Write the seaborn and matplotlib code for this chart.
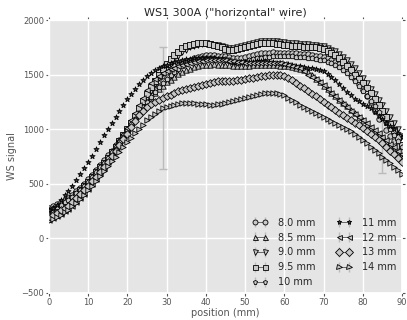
import matplotlib
matplotlib.use("Agg")
import matplotlib.pyplot as plt
import numpy as np
import pandas as pd
import seaborn as sns

# wire position (mm), one reading per mm
position = np.arange(0, 91)

s_80 = [280, 295, 312, 330, 350, 370, 400, 430, 465, 500, 540, 580, 625, 670, 715, 760, 805, 855, 905, 950,
        1000, 1055, 1110, 1160, 1210, 1260, 1310, 1355, 1400, 1440, 1480, 1512, 1545, 1575, 1600, 1620, 1638, 1653, 1665, 1674,
        1680, 1680, 1678, 1675, 1672, 1670, 1664, 1656, 1650, 1653, 1660, 1668, 1678, 1688, 1695, 1700, 1702, 1703, 1702, 1701,
        1700, 1698, 1696, 1694, 1692, 1690, 1685, 1680, 1673, 1667, 1660, 1648, 1635, 1620, 1600, 1575, 1545, 1505, 1460, 1410,
        1360, 1305, 1250, 1170, 1090, 920, 990, 940, 890, 845, 800]
s_85 = [220, 238, 258, 278, 298, 320, 350, 385, 420, 460, 500, 545, 595, 645, 690, 740, 790, 840, 890, 940,
        990, 1045, 1100, 1150, 1200, 1250, 1290, 1330, 1365, 1400, 1430, 1455, 1480, 1502, 1522, 1540, 1555, 1567, 1577, 1585,
        1590, 1592, 1593, 1592, 1591, 1590, 1587, 1583, 1580, 1579, 1580, 1582, 1585, 1588, 1590, 1590, 1590, 1588, 1586, 1583,
        1580, 1575, 1569, 1562, 1555, 1540, 1520, 1492, 1462, 1432, 1400, 1367, 1335, 1302, 1270, 1240, 1210, 1180, 1150, 1115,
        1080, 1045, 1010, 978, 945, 912, 880, 845, 810, 775, 740]
s_90 = [200, 220, 240, 262, 285, 310, 340, 370, 405, 440, 480, 525, 570, 620, 670, 720, 770, 825, 875, 930,
        980, 1040, 1105, 1165, 1230, 1290, 1350, 1410, 1465, 1515, 1560, 1600, 1640, 1675, 1705, 1730, 1750, 1765, 1775, 1782,
        1785, 1781, 1775, 1768, 1760, 1752, 1745, 1746, 1750, 1760, 1770, 1780, 1790, 1798, 1805, 1808, 1810, 1808, 1805, 1800,
        1795, 1792, 1789, 1786, 1783, 1780, 1776, 1772, 1768, 1764, 1760, 1746, 1730, 1712, 1690, 1665, 1635, 1600, 1560, 1517,
        1470, 1420, 1370, 1320, 1270, 1220, 1170, 1115, 1060, 1000, 940]
s_95 = [230, 250, 270, 295, 315, 340, 370, 405, 440, 480, 520, 560, 605, 650, 695, 740, 790, 840, 895, 945,
        1000, 1060, 1120, 1190, 1260, 1325, 1390, 1445, 1500, 1550, 1600, 1640, 1680, 1710, 1740, 1760, 1775, 1785, 1790, 1792,
        1790, 1783, 1775, 1763, 1750, 1738, 1730, 1730, 1735, 1745, 1755, 1765, 1775, 1783, 1790, 1792, 1790, 1788, 1785, 1780,
        1775, 1770, 1765, 1762, 1760, 1757, 1755, 1752, 1750, 1743, 1735, 1720, 1700, 1677, 1650, 1617, 1580, 1540, 1500, 1460,
        1420, 1377, 1330, 1277, 1220, 1165, 1110, 1050, 990, 925, 860]
s_10 = [260, 275, 292, 310, 330, 350, 380, 412, 447, 483, 520, 562, 605, 650, 695, 740, 788, 838, 888, 940,
        990, 1045, 1098, 1150, 1200, 1250, 1295, 1340, 1383, 1423, 1460, 1492, 1522, 1550, 1576, 1600, 1618, 1632, 1642, 1648,
        1650, 1650, 1648, 1645, 1642, 1640, 1630, 1618, 1610, 1613, 1620, 1630, 1640, 1648, 1655, 1660, 1664, 1667, 1669, 1670,
        1670, 1669, 1667, 1665, 1663, 1660, 1655, 1650, 1643, 1637, 1630, 1618, 1604, 1588, 1570, 1543, 1512, 1478, 1440, 1397,
        1352, 1306, 1260, 1210, 1160, 1110, 1060, 1005, 950, 895, 840]
s_11 = [260, 283, 310, 350, 395, 437, 480, 535, 590, 645, 700, 757, 815, 880, 945, 1003, 1060, 1115, 1170, 1225,
        1280, 1325, 1370, 1410, 1450, 1483, 1515, 1538, 1560, 1575, 1590, 1603, 1615, 1625, 1635, 1640, 1645, 1648, 1650, 1653,
        1655, 1653, 1650, 1645, 1640, 1633, 1625, 1620, 1615, 1614, 1615, 1617, 1620, 1623, 1625, 1623, 1620, 1615, 1610, 1605,
        1600, 1595, 1590, 1583, 1575, 1570, 1565, 1560, 1555, 1545, 1530, 1507, 1480, 1448, 1415, 1380, 1345, 1312, 1280, 1257,
        1235, 1213, 1190, 1155, 1120, 1090, 1060, 1030, 1000, 965, 930]
s_12 = [170, 188, 207, 228, 248, 270, 300, 335, 370, 410, 450, 498, 548, 598, 648, 700, 765, 830, 895, 955,
        1010, 1080, 1150, 1220, 1290, 1358, 1420, 1460, 1490, 1515, 1535, 1548, 1562, 1575, 1587, 1597, 1605, 1613, 1621, 1628,
        1635, 1636, 1635, 1633, 1631, 1630, 1626, 1621, 1616, 1612, 1610, 1609, 1609, 1610, 1610, 1610, 1609, 1607, 1605, 1603,
        1600, 1592, 1583, 1572, 1560, 1532, 1500, 1480, 1458, 1436, 1402, 1368, 1334, 1300, 1268, 1235, 1202, 1170, 1141, 1112,
        1083, 1054, 1024, 993, 962, 931, 900, 868, 835, 802, 770]
s_13 = [200, 218, 237, 257, 278, 300, 333, 368, 404, 442, 480, 522, 565, 610, 655, 700, 752, 805, 858, 910,
        960, 1020, 1078, 1130, 1170, 1203, 1230, 1250, 1268, 1285, 1300, 1316, 1331, 1346, 1360, 1371, 1381, 1391, 1400, 1409,
        1418, 1427, 1435, 1438, 1439, 1440, 1440, 1444, 1450, 1455, 1460, 1466, 1472, 1479, 1485, 1489, 1493, 1496, 1497, 1493,
        1485, 1470, 1450, 1426, 1400, 1375, 1350, 1325, 1300, 1275, 1250, 1225, 1200, 1176, 1152, 1129, 1106, 1083, 1060, 1035,
        1010, 985, 960, 930, 900, 870, 840, 805, 770, 735, 700]
s_14 = [160, 178, 197, 217, 238, 260, 293, 328, 364, 402, 440, 484, 528, 572, 616, 660, 705, 750, 795, 838,
        880, 922, 963, 1003, 1042, 1080, 1113, 1143, 1170, 1194, 1207, 1217, 1225, 1233, 1240, 1239, 1238, 1236, 1235, 1232,
        1228, 1225, 1222, 1227, 1233, 1240, 1248, 1257, 1265, 1275, 1285, 1295, 1305, 1314, 1322, 1330, 1334, 1336, 1335, 1325,
        1310, 1290, 1270, 1248, 1225, 1205, 1185, 1165, 1147, 1128, 1110, 1093, 1077, 1060, 1040, 1020, 1000, 980, 960, 930,
        900, 870, 840, 810, 780, 750, 720, 688, 655, 623, 590]

labels = ["8.0 mm", "8.5 mm", "9.0 mm", "9.5 mm", "10 mm", "11 mm", "12 mm", "13 mm", "14 mm"]
series = [s_80, s_85, s_90, s_95, s_10, s_11, s_12, s_13, s_14]
markers = ["o", "^", "v", "s", "p", "*", "<", "D", ">"]

# the two visibly large error bars
err_label = ["8.0 mm", "14 mm"]
err_x = [85, 29]
err_y = [320, 555]

sns.set_theme(style="darkgrid", rc={
    "axes.facecolor": "#E5E5E5",
    "grid.color": "white",
    "grid.linewidth": 1.0,
    "axes.edgecolor": "white",
    "xtick.color": "#555555",
    "ytick.color": "#555555",
    "axes.labelcolor": "#555555",
    "xtick.bottom": True,
    "ytick.left": True,
})
plt.rcParams["font.family"] = ["DejaVu Sans"]

fig = plt.figure(figsize=(4.07, 3.2), dpi=100)
ax = fig.add_axes([0.120, 0.0844, 0.868, 0.853])

rows = []
for lab, vals in zip(labels, series):
    rows.append(pd.DataFrame({"position": position, "signal": vals, "scan": lab}))
df = pd.concat(rows, ignore_index=True)

mk = dict(zip(labels, markers))
face = {lab: ("#444444" if lab == "11 mm" else "#c8c8c8") for lab in labels}
for lab in labels:
    sub = df[df["scan"] == lab]
    sns.scatterplot(data=sub, x="position", y="signal", marker=mk[lab], s=15,
                    color=face[lab], edgecolor="black", linewidth=0.6,
                    legend=False, ax=ax, zorder=3)

for lab, ex, ey in zip(err_label, err_x, err_y):
    sub = df[(df["scan"] == lab) & (df["position"] == ex)]
    ax.errorbar(sub["position"], sub["signal"], yerr=ey, fmt="none",
                ecolor="#bbbbbb", elinewidth=1.0, capsize=3, zorder=2)

handles = []
for lab in labels:
    h = ax.errorbar([np.nan], [np.nan], yerr=[1], fmt=mk[lab], ms=3.6,
                    mfc=face[lab], mec="black", mew=0.6, ls="-", lw=0.6,
                    color="#555555", ecolor="#bbbbbb", elinewidth=1.0, label=lab)
    handles.append(h)
ax.legend(handles=handles, labels=labels, loc="lower right", ncol=2, frameon=False,
          fontsize=7, numpoints=2, handlelength=1.6, columnspacing=2.2,
          labelspacing=0.5, handletextpad=1.0, borderaxespad=0.2)

ax.set_xlim(0, 90)
ax.set_ylim(-500, 2000)
ax.set_xticks(range(0, 91, 10))
ax.set_yticks(range(-500, 2001, 500))
ax.tick_params(axis="both", labelsize=6, length=2, width=0.8, direction="out",
               top=True, right=True, labeltop=False, labelright=False,
               color="#555555", pad=1.5)
ax.set_xlabel("position (mm)", fontsize=7, labelpad=0.5)
ax.set_ylabel("WS signal", fontsize=7, labelpad=3)
ax.set_title('WS1 300A ("horizontal" wire)', fontsize=8, pad=3)

fig.savefig("out.png", dpi=100)
